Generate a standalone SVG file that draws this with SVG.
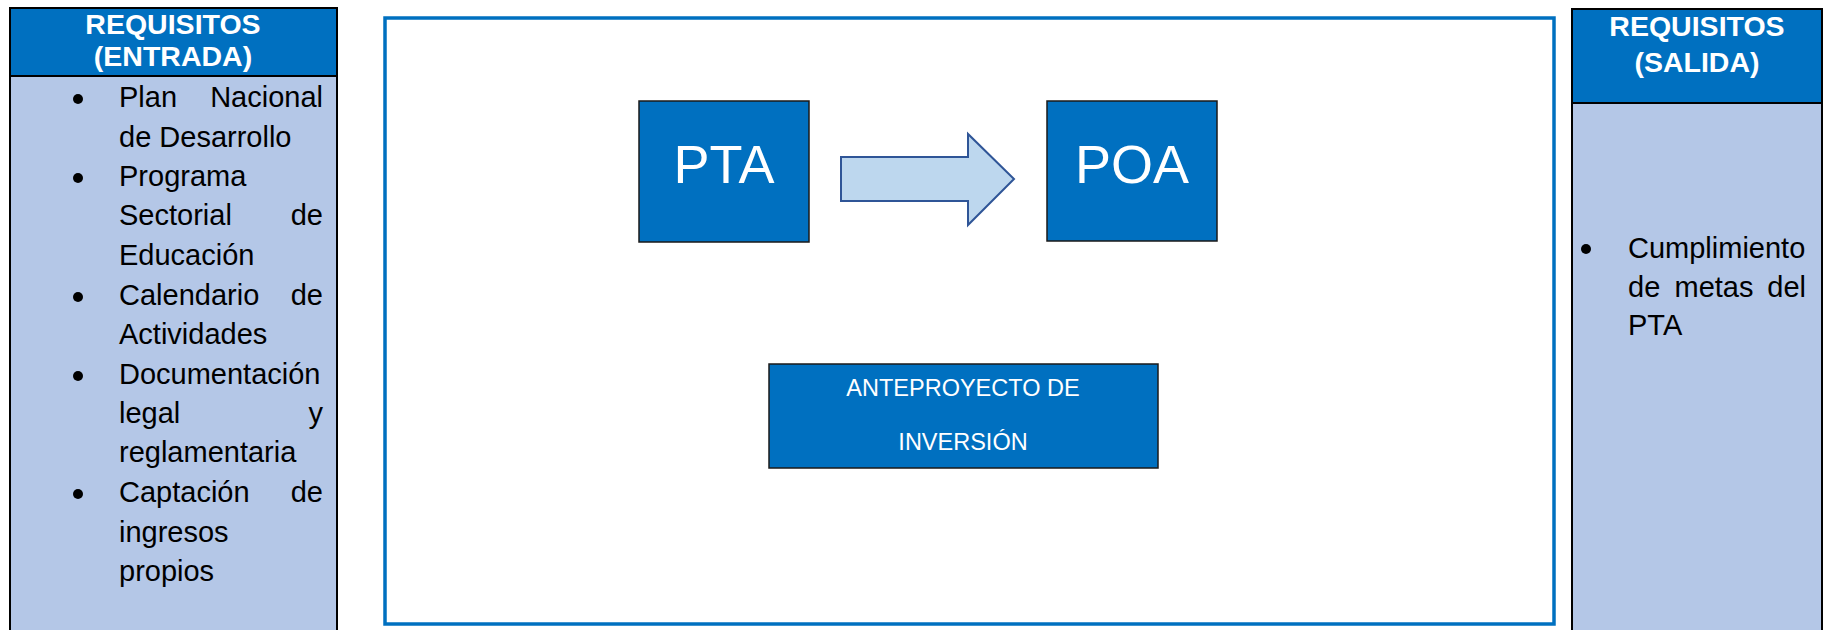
<svg xmlns="http://www.w3.org/2000/svg" width="1823" height="630" viewBox="0 0 1823 630">
<style>
.panel{fill:#B4C7E7;stroke:#000;stroke-width:2}
.hdr{fill:#0070C0;stroke:#000;stroke-width:2}
.ht{font-family:"Liberation Sans",Arial,sans-serif;font-weight:bold;font-size:28.5px;fill:#fff;text-anchor:middle}
.bt{font-family:"Liberation Sans",Arial,sans-serif;font-size:29px;fill:#000}
.end{text-anchor:end}
.mid{text-anchor:middle}
.box{fill:#0070C0;stroke:#1a1a1a;stroke-width:1.5}
.big{font-family:"Liberation Sans",Arial,sans-serif;font-size:54px;fill:#fff;text-anchor:middle}
.small{font-family:"Liberation Sans",Arial,sans-serif;font-size:23.5px;fill:#fff;text-anchor:middle}
</style>
<rect width="1823" height="630" fill="#fff"/>
<g id="entrada">
<rect class="panel" x="10" y="8" width="327" height="630"/>
<rect class="hdr" x="10" y="8" width="327" height="68"/>
<text class="ht" x="173" y="34">REQUISITOS</text>
<text class="ht" x="173" y="66">(ENTRADA)</text>
<g fill="#000">
<circle cx="78" cy="99" r="5"/>
<circle cx="78" cy="178" r="5"/>
<circle cx="78" cy="297" r="5"/>
<circle cx="78" cy="376" r="5"/>
<circle cx="78" cy="494" r="5"/>
</g>
<text class="bt" x="119" y="107">Plan</text>
<text class="bt end" x="323" y="107">Nacional</text>
<text class="bt" x="119" y="147">de Desarrollo</text>
<text class="bt" x="119" y="186">Programa</text>
<text class="bt" x="119" y="225">Sectorial</text>
<text class="bt end" x="323" y="225">de</text>
<text class="bt" x="119" y="265">Educación</text>
<text class="bt" x="119" y="305">Calendario</text>
<text class="bt end" x="323" y="305">de</text>
<text class="bt" x="119" y="344">Actividades</text>
<text class="bt" x="119" y="384">Documentación</text>
<text class="bt" x="119" y="423">legal</text>
<text class="bt end" x="323" y="423">y</text>
<text class="bt" x="119" y="462">reglamentaria</text>
<text class="bt" x="119" y="502">Captación</text>
<text class="bt end" x="323" y="502">de</text>
<text class="bt" x="119" y="542">ingresos</text>
<text class="bt" x="119" y="581">propios</text>
</g>
<g id="proceso">
<rect x="385" y="18" width="1169" height="606" fill="#fff" stroke="#0070C0" stroke-width="3.5"/>
</g>
<g id="pta">
<rect class="box" x="639" y="101" width="170" height="141"/>
<text class="big" x="724" y="183">PTA</text>
</g>
<g id="poa">
<rect class="box" x="1047" y="101" width="170" height="140"/>
<text class="big" x="1132" y="183">POA</text>
</g>
<g id="anteproyecto">
<rect class="box" x="769" y="364" width="389" height="104"/>
<text class="small" x="963" y="396">ANTEPROYECTO DE</text>
<text class="small" x="963" y="450">INVERSIÓN</text>
</g>
<g id="connectors">
<polygon points="841,157 968,157 968,134 1014,179 968,225 968,201 841,201" fill="#BDD7EE" stroke="#2F5597" stroke-width="2"/>
</g>
<g id="salida">
<rect class="panel" x="1572" y="9" width="250" height="630"/>
<rect class="hdr" x="1572" y="9" width="250" height="94"/>
<text class="ht" x="1697" y="36">REQUISITOS</text>
<text class="ht" x="1697" y="72">(SALIDA)</text>
<circle cx="1586" cy="249" r="5" fill="#000"/>
<text class="bt" x="1628" y="258">Cumplimiento</text>
<text class="bt" x="1628" y="297">de</text>
<text class="bt mid" x="1714" y="297">metas</text>
<text class="bt end" x="1806" y="297">del</text>
<text class="bt" x="1628" y="335">PTA</text>
</g>
</svg>
